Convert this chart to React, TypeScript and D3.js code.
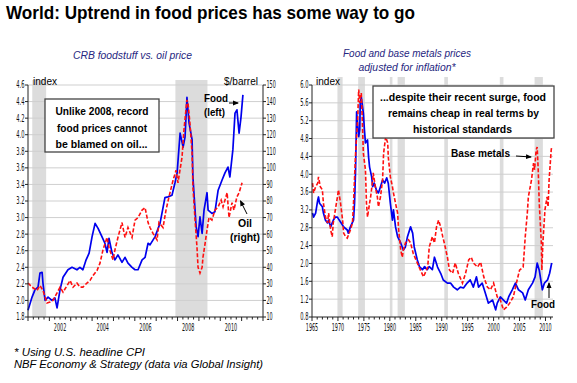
import React from "react";
import * as d3 from "d3";

// ---------- DATA ----------
// Left chart: CRB foodstuff index (left axis) and oil price $/barrel (right axis)
const crbFood: [number, number][] = [
  [2001.0, 1.88], [2001.19, 2.04], [2001.33, 2.13], [2001.47, 2.16], [2001.56, 2.33], [2001.66, 2.34],
  [2001.7, 2.21], [2001.8, 2.0], [2001.94, 2.04], [2002.12, 2.0], [2002.26, 2.03], [2002.36, 1.91],
  [2002.5, 2.13], [2002.64, 2.28], [2002.87, 2.37], [2003.06, 2.4], [2003.29, 2.37], [2003.43, 2.4],
  [2003.57, 2.37], [2003.72, 2.49], [2003.86, 2.57], [2004.0, 2.77], [2004.14, 2.93], [2004.28, 2.87],
  [2004.46, 2.77], [2004.6, 2.69], [2004.7, 2.58], [2004.79, 2.75], [2004.93, 2.58], [2005.07, 2.49],
  [2005.21, 2.55], [2005.4, 2.46], [2005.54, 2.52], [2005.68, 2.45], [2005.87, 2.4], [2006.01, 2.37],
  [2006.15, 2.37], [2006.34, 2.49], [2006.48, 2.52], [2006.62, 2.69], [2006.71, 2.67], [2006.95, 2.77],
  [2007.18, 2.93], [2007.41, 3.24], [2007.55, 3.25], [2007.74, 3.27], [2007.88, 3.42], [2007.98, 3.54],
  [2008.12, 4.02], [2008.26, 3.85], [2008.35, 3.97], [2008.44, 4.45], [2008.54, 4.14], [2008.68, 3.94],
  [2008.72, 3.49], [2008.87, 2.89], [2008.96, 2.77], [2009.05, 3.01], [2009.15, 2.81], [2009.24, 3.09],
  [2009.38, 3.3], [2009.43, 3.09], [2009.61, 3.05], [2009.75, 3.07], [2009.9, 3.33], [2010.08, 3.45],
  [2010.22, 3.54], [2010.36, 3.61], [2010.45, 3.49], [2010.59, 3.82], [2010.69, 4.26], [2010.78, 4.3],
  [2010.88, 4.02], [2010.97, 4.21], [2011.06, 4.48],
];
const oilPrice: [number, number][] = [
  [2001.0, 30.5], [2001.19, 28], [2001.42, 26], [2001.56, 29], [2001.7, 26], [2001.89, 18.5],
  [2002.03, 19], [2002.17, 20], [2002.36, 24.5], [2002.5, 28], [2002.64, 25], [2002.83, 29],
  [2002.97, 32], [2003.11, 28], [2003.29, 30.5], [2003.43, 28], [2003.57, 28], [2003.76, 30.5],
  [2003.9, 32], [2004.04, 35], [2004.23, 38], [2004.37, 42.5], [2004.51, 50.5], [2004.7, 58],
  [2004.79, 52], [2004.98, 44.5], [2005.07, 50.5], [2005.21, 58], [2005.4, 67], [2005.54, 58],
  [2005.68, 64], [2005.87, 58], [2006.01, 68.5], [2006.15, 70], [2006.34, 74.5], [2006.48, 76],
  [2006.62, 67], [2006.71, 64], [2006.85, 60.5], [2007.04, 56.5], [2007.13, 67], [2007.32, 64],
  [2007.46, 74.5], [2007.6, 82.5], [2007.79, 92.5], [2007.93, 98.5], [2008.02, 91], [2008.21, 106.5],
  [2008.3, 123], [2008.44, 141], [2008.49, 139], [2008.58, 127], [2008.68, 109], [2008.72, 88.5],
  [2008.82, 68.5], [2008.91, 52], [2008.96, 40], [2009.05, 36.5], [2009.15, 40], [2009.19, 46],
  [2009.29, 54.5], [2009.38, 62.5], [2009.47, 70], [2009.61, 68.5], [2009.75, 74.5], [2009.9, 76.5],
  [2010.04, 80.5], [2010.13, 76.5], [2010.32, 85], [2010.41, 70], [2010.55, 79], [2010.64, 74.5],
  [2010.78, 82.5], [2010.88, 85], [2011.02, 91],
];

// Right chart: real food and real base metals indices
const realFood: [number, number][] = [
  [1965.1, 3.13], [1965.3, 3.04], [1965.7, 3.13], [1966.1, 3.42], [1966.25, 3.49], [1966.45, 3.35],
  [1967.0, 3.27], [1967.2, 3.13], [1967.6, 2.97], [1968.0, 2.91], [1968.2, 2.97], [1968.6, 2.82],
  [1968.9, 2.91], [1969.1, 2.97], [1969.5, 3.04], [1969.9, 3.04], [1970.1, 3.0], [1970.5, 2.93],
  [1971.1, 2.82], [1971.8, 2.75], [1972.0, 2.68], [1972.4, 2.82], [1973.0, 2.97], [1973.2, 3.35],
  [1973.4, 4.1], [1973.6, 5.4], [1974.0, 4.84], [1974.2, 5.0], [1974.3, 5.6], [1974.5, 5.73],
  [1974.9, 5.37], [1975.1, 5.0], [1975.3, 4.7], [1975.7, 4.77], [1975.9, 4.39], [1976.1, 4.16],
  [1976.5, 3.94], [1976.7, 3.72], [1977.0, 3.8], [1977.4, 3.65], [1977.8, 3.58], [1978.2, 3.72],
  [1978.6, 3.87], [1979.0, 3.8], [1979.4, 3.92], [1979.7, 3.8], [1980.1, 3.35], [1980.5, 2.97],
  [1980.7, 3.2], [1981.1, 2.82], [1981.5, 2.6], [1982.1, 2.46], [1982.6, 2.3], [1983.0, 2.37],
  [1983.4, 2.6], [1984.0, 2.82], [1984.4, 2.68], [1984.7, 2.37], [1985.3, 2.08], [1985.7, 1.93],
  [1986.3, 1.86], [1986.7, 1.93], [1987.2, 1.86], [1987.6, 1.93], [1988.2, 1.86], [1988.6, 2.14],
  [1989.2, 1.92], [1989.8, 1.78], [1990.3, 1.63], [1991.1, 1.56], [1991.7, 1.56], [1992.3, 1.47],
  [1993.0, 1.41], [1993.6, 1.47], [1994.2, 1.45], [1994.9, 1.56], [1995.5, 1.63], [1996.1, 1.47],
  [1996.7, 1.7], [1997.1, 1.47], [1997.8, 1.56], [1998.4, 1.34], [1999.0, 1.11], [1999.8, 1.18],
  [2000.4, 0.96], [2000.7, 1.11], [2001.3, 1.25], [2001.9, 1.18], [2002.5, 1.11], [2002.9, 1.25],
  [2003.6, 1.41], [2004.2, 1.56], [2004.8, 1.41], [2005.6, 1.34], [2006.1, 1.18], [2006.7, 1.41],
  [2007.5, 1.56], [2008.0, 1.7], [2008.4, 2.01], [2008.8, 1.85], [2009.4, 1.41], [2009.8, 1.56],
  [2010.4, 1.63], [2010.8, 1.78], [2011.2, 2.01],
];
const realMetals: [number, number][] = [
  [1965.1, 3.8], [1965.3, 3.58], [1965.7, 3.72], [1966.1, 3.8], [1966.25, 3.94], [1966.6, 3.72],
  [1967.0, 3.65], [1967.2, 3.35], [1967.6, 3.04], [1968.0, 2.91], [1968.2, 3.13], [1968.6, 2.75],
  [1968.9, 2.6], [1969.1, 2.91], [1969.5, 3.2], [1969.9, 3.49], [1970.1, 3.65], [1970.5, 3.35],
  [1970.9, 2.97], [1971.1, 2.68], [1971.5, 2.6], [1971.8, 2.57], [1972.4, 2.75], [1972.8, 2.91],
  [1973.0, 3.35], [1973.4, 4.47], [1973.8, 5.22], [1974.0, 5.9], [1974.2, 5.6], [1974.5, 5.82],
  [1974.7, 5.22], [1974.9, 4.47], [1975.3, 4.1], [1975.5, 3.35], [1975.7, 3.04], [1976.1, 3.35],
  [1976.3, 3.49], [1976.7, 3.87], [1976.8, 4.03], [1977.2, 3.72], [1977.6, 3.49], [1977.8, 3.27],
  [1978.2, 3.49], [1978.6, 3.87], [1978.8, 4.47], [1979.2, 4.84], [1979.6, 4.7], [1979.7, 4.39],
  [1980.1, 3.94], [1980.5, 3.72], [1980.7, 3.58], [1981.1, 3.35], [1981.5, 3.13], [1981.7, 2.75],
  [1982.1, 2.3], [1982.4, 2.14], [1982.6, 2.3], [1983.0, 2.46], [1983.6, 2.53], [1984.0, 2.46],
  [1984.5, 2.23], [1985.3, 2.01], [1985.9, 1.85], [1986.5, 1.7], [1987.3, 1.92], [1987.6, 2.37],
  [1988.2, 2.6], [1988.6, 2.46], [1989.0, 2.82], [1989.4, 2.97], [1989.8, 2.82], [1990.2, 2.6],
  [1990.5, 2.46], [1991.1, 2.14], [1991.5, 1.85], [1992.1, 1.78], [1992.6, 2.01], [1993.2, 1.78],
  [1994.0, 1.56], [1994.6, 1.78], [1995.2, 2.08], [1995.7, 2.14], [1996.1, 2.01], [1996.9, 1.92],
  [1997.5, 2.03], [1998.1, 1.7], [1998.8, 1.47], [1999.4, 1.41], [2000.0, 1.56], [2000.7, 1.25],
  [2001.3, 1.18], [2001.9, 0.96], [2002.5, 1.02], [2003.1, 1.11], [2003.8, 1.25], [2004.4, 1.56],
  [2005.0, 1.85], [2005.7, 1.92], [2006.1, 2.6], [2006.5, 3.13], [2006.7, 3.49], [2007.3, 3.87],
  [2007.7, 4.25], [2007.9, 4.1], [2008.2, 4.54], [2008.4, 4.61], [2008.6, 4.1], [2008.8, 3.35],
  [2009.2, 2.46], [2009.3, 1.85], [2009.5, 2.46], [2009.9, 3.2], [2010.3, 3.49], [2010.5, 3.27],
  [2010.7, 3.87], [2011.1, 4.54], [2011.2, 4.61],
];

// Recessions (shaded)
const recessionsLeft: [number, number][] = [[2001.2, 2001.85], [2007.9, 2009.4]];
const recessionsRight: [number, number][] = [
  [1969.9, 1970.9], [1973.9, 1975.2], [1980.0, 1980.5], [1981.5, 1982.9],
  [1990.5, 1991.2], [2001.2, 2001.9], [2007.9, 2009.5],
];

// Ticks
const foodTicks = [1.8, 2.0, 2.2, 2.4, 2.6, 2.8, 3.0, 3.2, 3.4, 3.6, 3.8, 4.0, 4.2, 4.4, 4.6];
const oilTicks = [10, 20, 30, 40, 50, 60, 70, 80, 90, 100, 110, 120, 130, 140, 150];
const realTicks = [0.8, 1.2, 1.6, 2.0, 2.4, 2.8, 3.2, 3.6, 4.0, 4.4, 4.8, 5.2, 5.6, 6.0];
const leftYearLabels = [2002, 2004, 2006, 2008, 2010];
const rightYearLabels = [1965, 1970, 1975, 1980, 1985, 1990, 1995, 2000, 2005, 2010];

// ---------- LAYOUT ----------
const xL = d3.scaleLinear().domain([2001, 2012]).range([28, 263]);
const yFood = d3.scaleLinear().domain([1.8, 4.6]).range([317, 85]);
const yOil = d3.scaleLinear().domain([10, 150]).range([317, 85]);
const xR = d3.scaleLinear().domain([1965, 2011.45]).range([312, 553]);
const yReal = d3.scaleLinear().domain([0.8, 6.0]).range([317, 85]);

const SANS = "'Liberation Sans', Arial, Helvetica, sans-serif";
const NARROW = "'Liberation Sans Narrow', 'DejaVu Sans Condensed', 'Liberation Sans', Arial, sans-serif";
const BLUE = "#0000EE";
const RED = "#FF1010";
const GRID = "#CFCFCF";
const SHADE = "#DCDCDC";
const AXIS = "#222";

const labelLen = (s: string) => {
  let w = 0;
  for (const c of s) w += c === "." ? 2 : 3.1;
  return w;
};

function TickLabel(props: { x: number; y: number; text: string; anchor: "start" | "end" | "middle" }) {
  return (
    <text
      x={props.x}
      y={props.y}
      textAnchor={props.anchor}
      fontFamily={NARROW}
      fontSize={10}
      fill="#111"
      textLength={labelLen(props.text)}
      lengthAdjust="spacingAndGlyphs"
    >
      {props.text}
    </text>
  );
}

function FitText(props: {
  x: number; y: number; len: number; text: string; size: number;
  bold?: boolean; italic?: boolean; anchor?: "start" | "middle" | "end"; fill?: string; weight?: number;
}) {
  return (
    <text
      x={props.x}
      y={props.y}
      fontFamily={SANS}
      fontSize={props.size}
      fontWeight={props.bold ? "bold" : props.weight || "normal"}
      fontStyle={props.italic ? "italic" : "normal"}
      textAnchor={props.anchor || "start"}
      fill={props.fill || "#000"}
      textLength={props.len}
      lengthAdjust="spacingAndGlyphs"
    >
      {props.text}
    </text>
  );
}

export default function App() {
  const lineFood = d3.line<[number, number]>().x((d) => xL(d[0])).y((d) => yFood(d[1]));
  const lineOil = d3.line<[number, number]>().x((d) => xL(d[0])).y((d) => yOil(d[1]));
  const lineRF = d3.line<[number, number]>().x((d) => xR(d[0])).y((d) => yReal(d[1]));
  const lineRM = d3.line<[number, number]>().x((d) => xR(d[0])).y((d) => yReal(d[1]));

  const quarterTicks: number[] = [];
  for (let t = 2001; t <= 2012.001; t += 0.25) quarterTicks.push(+t.toFixed(2));
  const yearTicksR: number[] = d3.range(1965, 2012, 1);

  const [l0, l1] = xL.range();
  const [r0, r1] = xR.range();

  return (
    <svg
      width={577}
      height={383}
      viewBox="0 0 577 383"
      style={{ position: "absolute", left: 0, top: 0, background: "#fff" }}
    >
      <defs>
        <marker id="arrowhead" markerWidth="6" markerHeight="6" refX="5" refY="3" orient="auto" markerUnits="userSpaceOnUse">
          <path d="M0,0.5 L6,3 L0,5.5 z" fill="#000" />
        </marker>
      </defs>
      <rect x={0} y={0} width={577} height={383} fill="#fff" />

      {/* Title */}
      <FitText x={6} y={18.5} len={409} text="World: Uptrend in food prices has some way to go" size={18.5} bold />

      {/* Subtitles */}
      <FitText x={132.5} y={58.5} len={119} anchor="middle" text="CRB foodstuff vs. oil price" size={11} italic fill="#262680" />
      <FitText x={407} y={57} len={128} anchor="middle" text="Food and base metals prices" size={11} italic fill="#262680" />
      <FitText x={407} y={71} len={97} anchor="middle" text="adjusted for inflation*" size={11} italic fill="#262680" />

      {/* ===== LEFT CHART ===== */}
      {recessionsLeft.map(([a, b], i) => (
        <rect key={"rl" + i} x={xL(a)} y={80} width={xL(b) - xL(a)} height={317 - 80} fill={SHADE} />
      ))}
      {foodTicks.slice(1).map((t) => (
        <line key={"gl" + t} x1={l0} x2={l1} y1={yFood(t)} y2={yFood(t)} stroke={GRID} strokeWidth={1} />
      ))}
      <path d={lineFood(crbFood) || ""} fill="none" stroke={BLUE} strokeWidth={1.7} strokeLinejoin="round" />
      <path d={lineOil(oilPrice) || ""} fill="none" stroke={RED} strokeWidth={1.6} strokeDasharray="4,2" />

      {/* left axes */}
      <line x1={l0} x2={l0} y1={85} y2={317} stroke={AXIS} strokeWidth={1} />
      <line x1={l1} x2={l1} y1={85} y2={317} stroke={AXIS} strokeWidth={1} />
      <line x1={l0} x2={l1} y1={317} y2={317} stroke={AXIS} strokeWidth={1} />
      {foodTicks.map((t) => (
        <g key={"lt" + t}>
          <line x1={l0 - 3} x2={l0} y1={yFood(t)} y2={yFood(t)} stroke={AXIS} />
          <TickLabel x={l0 - 3.5} y={yFood(t) + 3.4} text={t.toFixed(1)} anchor="end" />
        </g>
      ))}
      {oilTicks.map((t) => (
        <g key={"rt" + t}>
          <line x1={l1} x2={l1 + 3} y1={yOil(t)} y2={yOil(t)} stroke={AXIS} />
          <TickLabel x={l1 + 3.5} y={yOil(t) + 3.4} text={String(t)} anchor="start" />
        </g>
      ))}
      {quarterTicks.map((t) => (
        <line key={"qt" + t} x1={xL(t)} x2={xL(t)} y1={317} y2={Number.isInteger(t) ? 321 : 319.5} stroke={AXIS} />
      ))}
      {leftYearLabels.map((yr) => (
        <TickLabel key={"ly" + yr} x={xL(yr + 0.5)} y={331} text={String(yr)} anchor="middle" />
      ))}
      <FitText x={33} y={85} len={24} text="index" size={11} />
      <FitText x={224} y={85} len={34} text="$/barrel" size={11} />

      {/* left annotation box */}
      <rect x={45} y={99} width={114} height={53} fill="#fff" stroke="#444" strokeWidth={1.3} />
      <FitText x={102} y={115} len={93} anchor="middle" text="Unlike 2008, record" size={11.5} bold />
      <FitText x={102} y={131.5} len={90} anchor="middle" text="food prices cannot" size={11.5} bold />
      <FitText x={101.5} y={148} len={92} anchor="middle" text="be blamed on oil..." size={11.5} bold />

      {/* left series labels */}
      <FitText x={204} y={102} len={24} text="Food" size={11.5} bold />
      <FitText x={204} y={116} len={21} text="(left)" size={11.5} bold />
      <line x1={229} y1={103} x2={238} y2={103} stroke="#000" strokeWidth={1} markerEnd="url(#arrowhead)" />
      <FitText x={238} y={227} len={14} text="Oil" size={11.5} bold />
      <FitText x={230} y={241} len={30} text="(right)" size={11.5} bold />
      <line x1={247} y1={214} x2={240.5} y2={201} stroke="#000" strokeWidth={1} markerEnd="url(#arrowhead)" />

      {/* ===== RIGHT CHART ===== */}
      {recessionsRight.map(([a, b], i) => (
        <rect key={"rr" + i} x={xR(a)} y={77} width={xR(b) - xR(a)} height={317 - 77} fill={SHADE} />
      ))}
      {realTicks.slice(1).map((t) => (
        <line key={"gr" + t} x1={r0} x2={r1} y1={yReal(t)} y2={yReal(t)} stroke={GRID} strokeWidth={1} />
      ))}
      <path d={lineRF(realFood) || ""} fill="none" stroke={BLUE} strokeWidth={1.7} strokeLinejoin="round" />
      <path d={lineRM(realMetals) || ""} fill="none" stroke={RED} strokeWidth={1.6} strokeDasharray="4,2" />

      <line x1={r0} x2={r0} y1={85} y2={317} stroke={AXIS} strokeWidth={1} />
      <line x1={r0} x2={r1} y1={317} y2={317} stroke={AXIS} strokeWidth={1} />
      {realTicks.map((t) => (
        <g key={"yt" + t}>
          <line x1={r0 - 3} x2={r0} y1={yReal(t)} y2={yReal(t)} stroke={AXIS} />
          <TickLabel x={r0 - 3.5} y={yReal(t) + 3.4} text={t.toFixed(1)} anchor="end" />
        </g>
      ))}
      {yearTicksR.map((t) => (
        <line key={"yr" + t} x1={xR(t)} x2={xR(t)} y1={317} y2={t % 5 === 0 ? 321 : 319.5} stroke={AXIS} />
      ))}
      {rightYearLabels.map((yr) => (
        <TickLabel key={"ry" + yr} x={xR(yr)} y={331} text={String(yr)} anchor="middle" />
      ))}
      <FitText x={316} y={85} len={24} text="index" size={11} />

      {/* right annotation box */}
      <rect x={373} y={86} width={181} height={52} fill="#fff" stroke="#444" strokeWidth={1.3} />
      <FitText x={463} y={101} len={166} anchor="middle" text="...despite their recent surge, food" size={11.5} bold />
      <FitText x={463.5} y={117} len={151} anchor="middle" text="remains cheap in real terms by" size={11.5} bold />
      <FitText x={462.5} y={132.5} len={99} anchor="middle" text="historical standards" size={11.5} bold />

      <FitText x={451} y={157} len={59} text="Base metals" size={11.5} bold />
      <line x1={516} y1={156} x2={531} y2={157} stroke="#000" strokeWidth={1} markerEnd="url(#arrowhead)" />
      <FitText x={531} y={308} len={24} text="Food" size={11.5} bold />
      <line x1={549} y1={298} x2={549} y2={283} stroke="#000" strokeWidth={1} markerEnd="url(#arrowhead)" />

      {/* Footnotes */}
      <FitText x={14} y={356} len={131} text="* Using U.S. headline CPI" size={11.5} italic />
      <FitText x={14} y={368} len={249} text="NBF Economy & Strategy (data via Global Insight)" size={11.5} italic />
    </svg>
  );
}
